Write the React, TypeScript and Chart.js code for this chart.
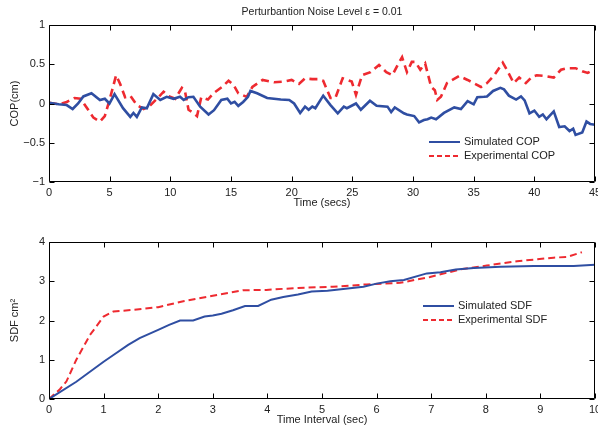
import { useEffect, useRef } from "react";
import { Chart, registerables } from "chart.js";

Chart.register(...registerables);

const FONT = '"Liberation Sans", Arial, Helvetica, sans-serif';
const BLUE = "#2f4ea2";
const RED = "#ee2a30";
const TEXT = "#222222";

// ---- Top panel: COP vs time ----
const titleText = "Perturbantion Noise Level \u03b5 = 0.01";
const copXTicks = [0, 5, 10, 15, 20, 25, 30, 35, 40, 45];
const copYTicks = [-1, -0.5, 0, 0.5, 1];

const simCopTime = [0, 0.8, 1.46, 1.95, 2.4, 2.83, 3.5, 4.2, 4.6, 4.98, 5.4, 6.1, 6.7, 6.96, 7.24, 7.65, 8.06, 8.6, 9.17, 9.7, 10.27, 10.8, 11.1, 11.5, 11.9, 12.46, 13.15, 13.6, 14.2, 14.7, 15.0, 15.3, 15.6, 16.0, 16.4, 16.6, 17.15, 17.98, 19.1, 19.8, 20.2, 20.7, 21.1, 21.4, 21.7, 21.95, 22.6, 23.2, 23.8, 24.3, 24.55, 25.3, 25.7, 26.45, 27.0, 27.9, 28.2, 28.5, 29.25, 29.5, 30.1, 30.5, 30.9, 31.2, 31.5, 31.9, 32.55, 33.4, 33.95, 34.5, 35.0, 35.3, 35.85, 36.1, 36.6, 37.2, 37.5, 37.9, 38.5, 38.9, 39.2, 39.6, 40.0, 40.4, 40.7, 41.0, 41.6, 42.05, 42.5, 42.9, 43.2, 43.4, 43.95, 44.3, 44.6, 45];
const simCop = [0.01, -0.01, -0.02, -0.07, 0.0, 0.09, 0.13, 0.045, 0.06, 0.0, 0.12, -0.06, -0.17, -0.12, -0.17, -0.05, -0.06, 0.12, 0.045, 0.085, 0.06, 0.085, 0.045, 0.08, 0.085, -0.04, -0.14, -0.085, 0.045, 0.06, 0.0, 0.02, -0.03, 0.02, 0.085, 0.16, 0.13, 0.07, 0.05, 0.045, 0.0, -0.12, -0.04, -0.08, -0.04, -0.06, 0.1, -0.02, -0.125, -0.04, -0.06, 0.0, -0.08, 0.035, -0.03, -0.04, -0.11, -0.05, -0.125, -0.14, -0.16, -0.24, -0.21, -0.2, -0.18, -0.2, -0.12, -0.05, -0.07, 0.03, -0.01, 0.08, 0.085, 0.09, 0.16, 0.2, 0.18, 0.1, 0.05, 0.09, 0.04, -0.125, -0.09, -0.17, -0.14, -0.2, -0.1, -0.3, -0.29, -0.35, -0.32, -0.4, -0.37, -0.23, -0.26, -0.27];

const expCopTime = [0, 0.8, 1.46, 2.1, 2.6, 3.1, 3.66, 4.2, 4.6, 5.0, 5.53, 5.86, 6.27, 6.7, 7.24, 7.8, 8.3, 8.9, 9.44, 9.85, 10.4, 10.95, 11.2, 11.5, 11.9, 12.2, 12.55, 13.1, 13.55, 14.25, 14.8, 15.2, 15.6, 16.3, 16.76, 17.6, 18.55, 19.4, 20.0, 20.6, 21.1, 21.7, 22.2, 22.6, 23.2, 23.6, 24.2, 24.95, 25.3, 25.8, 26.5, 27.2, 27.8, 28.3, 28.8, 29.1, 29.5, 29.9, 30.2, 30.6, 31.0, 31.5, 31.8, 32.0, 32.3, 32.8, 33.8, 34.5, 35.0, 35.6, 36.1, 36.7, 37.4, 37.8, 38.3, 38.75, 39.3, 39.8, 40.2, 40.9, 41.6, 42.2, 42.7, 43.4, 43.95, 44.4, 44.9];
const expCop = [0.01, -0.01, 0.02, 0.07, 0.06, -0.05, -0.18, -0.23, -0.16, 0.05, 0.36, 0.25, 0.08, 0.1, -0.02, -0.07, -0.03, 0.06, 0.15, 0.095, 0.06, 0.2, 0.16, -0.08, -0.12, -0.16, 0.08, 0.05, 0.13, 0.21, 0.29, 0.24, 0.13, 0.085, 0.21, 0.3, 0.27, 0.28, 0.3, 0.25, 0.32, 0.31, 0.31, 0.29, 0.07, 0.07, 0.32, 0.28, 0.11, 0.36, 0.4, 0.49, 0.4, 0.36, 0.51, 0.59, 0.4, 0.53, 0.53, 0.43, 0.51, 0.21, 0.17, 0.045, 0.085, 0.26, 0.35, 0.3, 0.26, 0.21, 0.26, 0.36, 0.52, 0.41, 0.26, 0.33, 0.26, 0.34, 0.36, 0.35, 0.33, 0.43, 0.45, 0.45, 0.41, 0.39, 0.43];

// ---- Bottom panel: SDF vs time interval ----
const sdfXTicks = [0, 1, 2, 3, 4, 5, 6, 7, 8, 9, 10];
const sdfYTicks = [0, 1, 2, 3, 4];

const simSdfTime = [0, 0.5, 1, 1.18, 1.45, 1.66, 2.0, 2.2, 2.4, 2.64, 2.85, 3.0, 3.16, 3.37, 3.59, 3.83, 4.07, 4.29, 4.56, 4.81, 5.1, 5.76, 6.0, 6.25, 6.5, 6.92, 7.17, 7.45, 7.78, 8.27, 8.88, 9.61, 10];
const simSdf = [0, 0.44, 0.95, 1.12, 1.38, 1.55, 1.76, 1.89, 2.0, 2.0, 2.1, 2.13, 2.17, 2.26, 2.37, 2.37, 2.53, 2.6, 2.66, 2.74, 2.76, 2.86, 2.94, 3.0, 3.03, 3.2, 3.23, 3.3, 3.34, 3.37, 3.39, 3.39, 3.42];

const expSdfTime = [0, 0.2, 0.32, 0.5, 0.75, 1.0, 1.18, 1.54, 2.0, 2.46, 3.0, 3.55, 3.98, 4.56, 5.2, 5.82, 6.43, 6.98, 7.53, 8.02, 8.57, 9.24, 9.49, 9.76];
const expSdf = [0, 0.25, 0.45, 1.0, 1.63, 2.1, 2.23, 2.27, 2.34, 2.49, 2.63, 2.77, 2.78, 2.83, 2.86, 2.92, 2.96, 3.11, 3.3, 3.4, 3.51, 3.6, 3.62, 3.74];

const pts = (xs: number[], ys: number[]) => xs.map((x, i) => ({ x, y: ys[i] }));
const fmt = (v: number) => String(v).replace("-", "\u2212");

type PanelCfg = {
  xMin: number; xMax: number; xTicks: number[];
  yMin: number; yMax: number; yTicks: number[];
  top: number; bottom: number; height: number;
  xTitle: string; xTitleY: number; yTitle: string;
  title?: string;
  legendX: number; legendY: number;
  lineWidth: number;
  series: { label: string; xs: number[]; ys: number[]; color: string; dash: number[] }[];
};

function buildChart(canvas: HTMLCanvasElement, p: PanelCfg) {
  const framePlugin = {
    id: "frame",
    afterDraw(chart: any) {
      const { ctx, chartArea: a, scales } = chart;
      ctx.save();
      ctx.strokeStyle = "#000";
      ctx.lineWidth = 1;
      const L = Math.round(a.left) + 0.5, R = Math.round(a.right) - 0.5;
      const T = Math.round(a.top) + 0.5, B = Math.round(a.bottom) - 0.5;
      ctx.beginPath();
      ctx.rect(L, T, R - L, B - T);
      ctx.stroke();
      const tl = 5;
      ctx.beginPath();
      p.xTicks.forEach((v) => {
        const x = Math.round(scales.x.getPixelForValue(v)) + 0.5;
        ctx.moveTo(x, B); ctx.lineTo(x, B - tl);
        ctx.moveTo(x, T); ctx.lineTo(x, T + tl);
      });
      p.yTicks.forEach((v) => {
        const y = Math.round(scales.y.getPixelForValue(v)) + 0.5;
        ctx.moveTo(L, y); ctx.lineTo(L + tl, y);
        ctx.moveTo(R, y); ctx.lineTo(R - tl, y);
      });
      ctx.stroke();

      ctx.fillStyle = TEXT;
      ctx.font = `11px ${FONT}`;
      ctx.textAlign = "center";
      ctx.textBaseline = "middle";
      const cx = (a.left + a.right) / 2;
      ctx.fillText(p.xTitle, cx, p.xTitleY);
      ctx.save();
      ctx.translate(15, (a.top + a.bottom) / 2);
      ctx.rotate(-Math.PI / 2);
      ctx.fillText(p.yTitle, 0, 0);
      ctx.restore();
      if (p.title) {
        ctx.font = `10.5px ${FONT}`;
        ctx.fillText(p.title, cx, 12);
      }

      // legend
      ctx.font = `11px ${FONT}`;
      ctx.textAlign = "left";
      p.series.forEach((s, i) => {
        const y = p.legendY + i * 14;
        ctx.strokeStyle = s.color;
        ctx.lineWidth = 2;
        ctx.setLineDash(s.dash.length ? [5, 3] : []);
        ctx.beginPath();
        ctx.moveTo(p.legendX, y);
        ctx.lineTo(p.legendX + 31, y);
        ctx.stroke();
        ctx.setLineDash([]);
        ctx.fillStyle = TEXT;
        ctx.fillText(s.label, p.legendX + 35, y);
      });
      ctx.restore();
    },
  };

  return new Chart(canvas, {
    type: "line",
    data: {
      datasets: p.series.map((s) => ({
        label: s.label,
        data: pts(s.xs, s.ys),
        borderColor: s.color,
        backgroundColor: s.color,
        borderWidth: p.lineWidth,
        borderDash: s.dash,
        pointRadius: 0,
        tension: 0,
        fill: false,
      })),
    },
    options: {
      animation: false,
      responsive: false,
      maintainAspectRatio: false,
      layout: { padding: { left: 0, right: 620 - 595, top: p.top, bottom: 0 } },
      plugins: { legend: { display: false }, tooltip: { enabled: false }, title: { display: false } },
      scales: {
        x: {
          type: "linear",
          min: p.xMin,
          max: p.xMax,
          grid: { display: false, drawTicks: false },
          border: { display: false },
          afterBuildTicks: (sc: any) => { sc.ticks = p.xTicks.map((v) => ({ value: v })); },
          afterFit: (sc: any) => { sc.height = p.height - p.bottom; },
          ticks: {
            padding: 4,
            maxRotation: 0,
            autoSkip: false,
            color: TEXT,
            font: { family: FONT, size: 11 },
            callback: (v: any) => fmt(Number(v)),
          },
        },
        y: {
          type: "linear",
          min: p.yMin,
          max: p.yMax,
          grid: { display: false, drawTicks: false },
          border: { display: false },
          afterBuildTicks: (sc: any) => { sc.ticks = p.yTicks.map((v) => ({ value: v })); },
          afterFit: (sc: any) => { sc.width = 49; },
          ticks: {
            padding: 4,
            autoSkip: false,
            color: TEXT,
            font: { family: FONT, size: 11 },
            callback: (v: any) => fmt(Number(v)),
          },
        },
      },
    },
    plugins: [framePlugin],
  } as any);
}

const topCfg: PanelCfg = {
  xMin: 0, xMax: 45, xTicks: copXTicks,
  yMin: -1, yMax: 1, yTicks: copYTicks,
  top: 25, bottom: 182, height: 214,
  xTitle: "Time (secs)", xTitleY: 203, yTitle: "COP(cm)",
  title: titleText,
  legendX: 429, legendY: 142,
  lineWidth: 2.6,
  series: [
    { label: "Simulated COP", xs: simCopTime, ys: simCop, color: BLUE, dash: [] },
    { label: "Experimental COP", xs: expCopTime, ys: expCop, color: RED, dash: [8, 5] },
  ],
};

const bottomCfg: PanelCfg = {
  xMin: 0, xMax: 10, xTicks: sdfXTicks,
  yMin: 0, yMax: 4, yTicks: sdfYTicks,
  top: 28, bottom: 185, height: 214,
  xTitle: "Time Interval (sec)", xTitleY: 206, yTitle: "SDF cm\u00b2",
  legendX: 423, legendY: 92,
  lineWidth: 2,
  series: [
    { label: "Simulated SDF", xs: simSdfTime, ys: simSdf, color: BLUE, dash: [] },
    { label: "Experimental SDF", xs: expSdfTime, ys: expSdf, color: RED, dash: [7, 4] },
  ],
};

export default function App() {
  const topRef = useRef<HTMLCanvasElement>(null);
  const botRef = useRef<HTMLCanvasElement>(null);
  useEffect(() => {
    const c1 = buildChart(topRef.current!, topCfg);
    const c2 = buildChart(botRef.current!, bottomCfg);
    return () => { c1.destroy(); c2.destroy(); };
  }, []);
  return (
    <div style={{ position: "fixed", left: 0, top: 0, width: 598, height: 428, overflow: "hidden", background: "#fff" }}>
      <canvas ref={topRef} width={620} height={214} style={{ position: "absolute", left: 0, top: 0, width: 620, height: 214 }} />
      <canvas ref={botRef} width={620} height={214} style={{ position: "absolute", left: 0, top: 214, width: 620, height: 214 }} />
    </div>
  );
}
